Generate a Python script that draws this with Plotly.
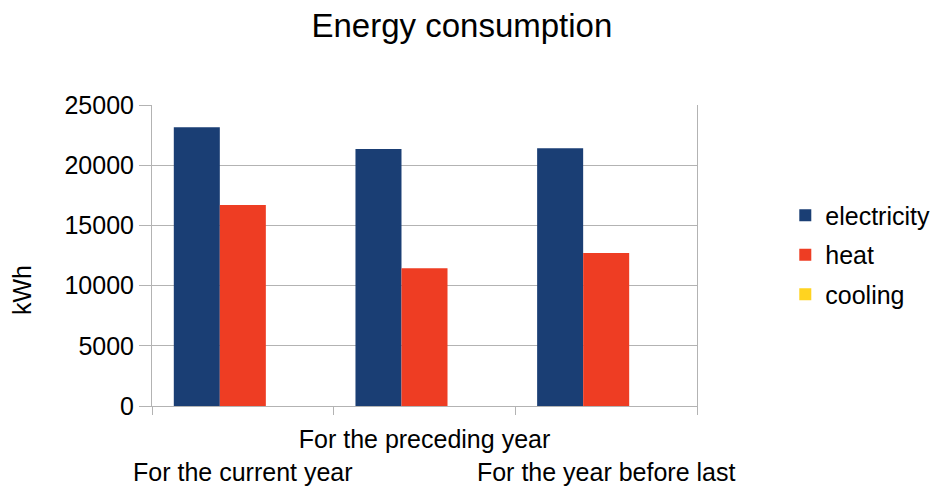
import plotly.graph_objects as go

# Categories and annual consumption (kWh)
periods = ["For the current year", "For the preceding year", "For the year before last"]
period_labels = ["<br>For the current year", "For the preceding year", "<br>For the year before last"]
electricity = [23150, 21350, 21400]
heat = [16700, 11450, 12700]
cooling = [0, 0, 0]

series = [
    ("electricity", electricity, "#1a3e74"),
    ("heat", heat, "#ee3d23"),
    ("cooling", cooling, "#ffd320"),
]

FONT = "Liberation Sans, Arial, sans-serif"
GRID = "#b3b3b3"

fig = go.Figure()
for name, vals, color in series:
    fig.add_trace(go.Bar(
        x=periods, y=vals, name=name,
        marker=dict(color=color, line=dict(width=0)),
        legendgroup=name,
    ))

fig.update_layout(
    width=935, height=488,
    margin=dict(l=152, r=238, t=105, b=82, autoexpand=False),
    paper_bgcolor="white", plot_bgcolor="white",
    font=dict(family=FONT, size=25, color="black"),
    barmode="group", bargap=0.24, bargroupgap=0,
    title=dict(text="Energy consumption", font=dict(size=33, family=FONT),
               x=0.494, xanchor="center", y=1 - 25 / 488, yanchor="middle",
               xref="container", yref="container"),
    legend=dict(x=1.162, xanchor="left", y=0.502, yanchor="middle",
                font=dict(size=25), traceorder="grouped", tracegroupgap=4,
                bgcolor="rgba(0,0,0,0)"),
    showlegend=True,
)

fig.update_xaxes(
    type="category", tickmode="array", tickvals=periods, ticktext=period_labels,
    tickson="boundaries", ticks="outside", ticklen=8, tickcolor=GRID, tickwidth=1,
    showline=True, linecolor=GRID, linewidth=1, showgrid=False,
    tickangle=0, automargin=False, ticklabelstandoff=11, tickfont=dict(size=25),
)
fig.update_yaxes(
    range=[0, 25000], dtick=5000, tick0=0, tickformat="d",
    ticks="outside", ticklen=12, tickcolor=GRID, tickwidth=1,
    showgrid=True, gridcolor=GRID, gridwidth=1,
    showline=True, linecolor=GRID, linewidth=1, mirror=True,
    zeroline=False, automargin=False, tickfont=dict(size=25),
)

fig.add_annotation(
    text="kWh", textangle=-90, showarrow=False,
    xref="paper", yref="paper", x=(22 - 152) / 545, y=(406 - 290) / 301,
    xanchor="center", yanchor="middle", font=dict(size=25, family=FONT),
)

fig.write_html("out.html")
